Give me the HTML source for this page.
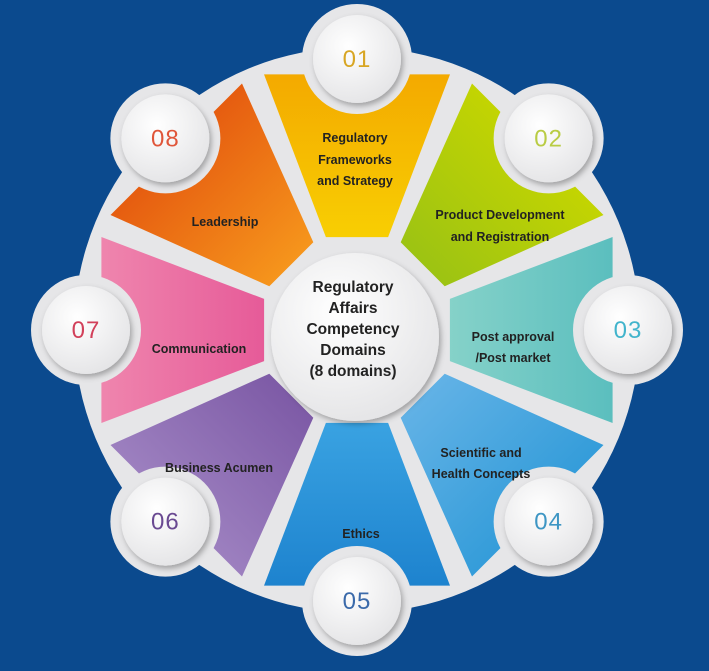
<!DOCTYPE html>
<html><head><meta charset="utf-8"><style>
html,body{margin:0;padding:0;background:#0b4a8e;}
svg{display:block}
text{font-family:"Liberation Sans",Arial,sans-serif;font-weight:bold;fill:#222;text-anchor:middle}
.n{font-weight:normal;font-size:24px;letter-spacing:1px}
</style></head><body>
<svg width="709" height="671" viewBox="0 0 709 671" xmlns="http://www.w3.org/2000/svg">
<defs>
<filter id="sh" x="-30%" y="-30%" width="160%" height="160%"><feDropShadow dx="2" dy="3" stdDeviation="3" flood-color="#000" flood-opacity="0.3"/></filter>
<radialGradient id="wg" cx="40%" cy="35%" r="70%"><stop offset="0" stop-color="#ffffff"/><stop offset="1" stop-color="#e4e4e6"/></radialGradient>
</defs>
<rect width="709" height="671" fill="#0b4a8e"/>
<circle cx="357" cy="330" r="283" fill="#e6e6e8"/>
<g id="w"></g>
<circle cx="355" cy="337" r="84" fill="url(#wg)" filter="url(#sh)"/>
<text font-size="15.5"><tspan x="353" y="292">Regulatory</tspan><tspan x="353" y="313">Affairs</tspan><tspan x="353" y="334">Competency</tspan><tspan x="353" y="355">Domains</tspan><tspan x="353" y="376">(8 domains)</tspan></text>
<g font-size="12.5">
<text><tspan x="355" y="142">Regulatory</tspan><tspan x="355" y="164">Frameworks</tspan><tspan x="355" y="185">and Strategy</tspan></text>
<text><tspan x="500" y="219">Product Development</tspan><tspan x="500" y="241">and Registration</tspan></text>
<text><tspan x="513" y="341">Post approval</tspan><tspan x="513" y="362">/Post market</tspan></text>
<text><tspan x="481" y="457">Scientific and</tspan><tspan x="481" y="478">Health Concepts</tspan></text>
<text x="361" y="538">Ethics</text>
<text x="219" y="472">Business Acumen</text>
<text x="199" y="353">Communication</text>
<text x="225" y="226">Leadership</text>
</g>
<g id="c"></g>
</svg>
<script>
var cx=357,cy=330,ns="http://www.w3.org/2000/svg";
var cols=[["#f3a500","#f8cf02"],["#c7d600","#9cc313"],["#56bcbd","#86d2c9"],["#2f9ad8","#62b2e6"],["#1a7fcc","#3aa3e2"],["#a084c2","#7d5aa6"],["#f08ab0","#e65a98"],["#e4560f","#f6961c"]];
var ncol=["#d8a624","#b9cc44","#42b4cc","#3e96c4","#3b6aaa","#6a4a92","#d2405a","#e0563a"];
var W=document.getElementById("w"),C=document.getElementById("c"),D=document.querySelector("defs");
function pt(a,r){a=(a-90)*Math.PI/180;return [cx+r*Math.cos(a),cy+r*Math.sin(a)];}
for(var i=0;i<8;i++){
 var a=i*45;
 var g=document.createElementNS(ns,"linearGradient");g.id="g"+i;
 var p1=pt(a,90),p2=pt(a,275);
 g.setAttribute("gradientUnits","userSpaceOnUse");
 g.setAttribute("x1",p2[0]);g.setAttribute("y1",p2[1]);g.setAttribute("x2",p1[0]);g.setAttribute("y2",p1[1]);
 g.innerHTML='<stop offset="0" stop-color="'+cols[i][0]+'"/><stop offset="1" stop-color="'+cols[i][1]+'"/>';
 D.appendChild(g);
 var A=pt(a-20,272),B=pt(a+20,272),E=pt(a+18.5,98),F=pt(a-18.5,98);
 var p=document.createElementNS(ns,"polygon");
 p.setAttribute("points",[A,B,E,F].map(function(q){return q[0].toFixed(1)+","+q[1].toFixed(1)}).join(" "));
 p.setAttribute("fill","url(#g"+i+")");W.appendChild(p);
 var c=pt(a,271);
 var h=document.createElementNS(ns,"circle");h.setAttribute("cx",c[0]);h.setAttribute("cy",c[1]);h.setAttribute("r",55);h.setAttribute("fill","#e6e6e8");W.appendChild(h);
 var k=document.createElementNS(ns,"circle");k.setAttribute("cx",c[0]);k.setAttribute("cy",c[1]);k.setAttribute("r",44);k.setAttribute("fill","url(#wg)");k.setAttribute("filter","url(#sh)");C.appendChild(k);
 var t=document.createElementNS(ns,"text");t.setAttribute("x",c[0]);t.setAttribute("y",c[1]+8);t.setAttribute("class","n");t.style.fill=ncol[i];t.textContent="0"+(i+1);C.appendChild(t);
}
</script>
</body></html>
